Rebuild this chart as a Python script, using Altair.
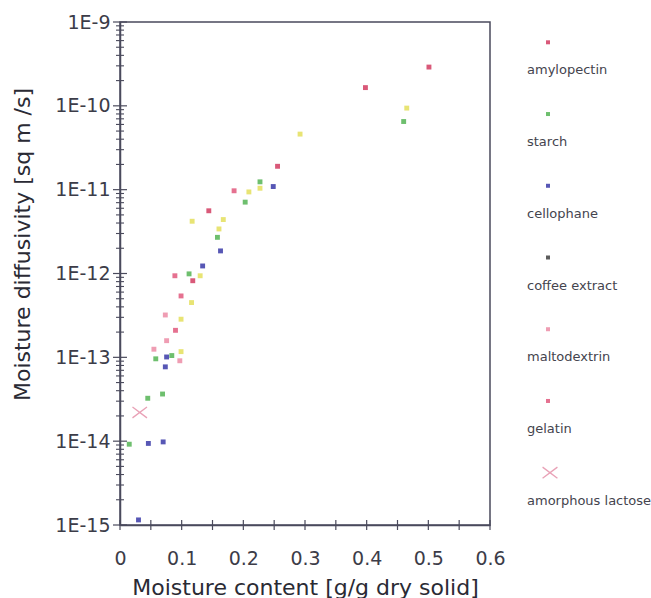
import altair as alt
import pandas as pd

# ---- data: moisture content [g/g dry solid] vs moisture diffusivity [m^2/s] ----
amylopectin_x = [0.501, 0.398, 0.2555, 0.144, 0.118]
amylopectin_y = [2.9e-10, 1.65e-10, 1.9e-11, 5.6e-12, 8.2e-13]

starch_x = [0.460, 0.227, 0.203, 0.158, 0.112, 0.058, 0.084, 0.045, 0.069, 0.015]
starch_y = [6.5e-11, 1.24e-11, 7.1e-12, 2.7e-12, 9.9e-13, 9.6e-14, 1.05e-13, 3.25e-14, 3.65e-14, 9.2e-15]

cellophane_x = [0.2485, 0.163, 0.134, 0.0756, 0.0735, 0.046, 0.070, 0.030]
cellophane_y = [1.09e-11, 1.86e-12, 1.23e-12, 1.01e-13, 7.7e-14, 9.4e-15, 9.8e-15, 1.15e-15]

coffee_x = []
coffee_y = []

maltodextrin_x = [0.0735, 0.0756, 0.055, 0.097]
maltodextrin_y = [3.2e-13, 1.58e-13, 1.25e-13, 9.1e-14]

gelatin_x = [0.185, 0.089, 0.099, 0.090]
gelatin_y = [9.7e-12, 9.4e-13, 5.4e-13, 2.1e-13]

lactose_x = [0.032]
lactose_y = [2.2e-14]

other_x = [0.465, 0.292, 0.227, 0.209, 0.117, 0.1675, 0.1605, 0.130, 0.116, 0.099, 0.099]
other_y = [9.4e-11, 4.6e-11, 1.04e-11, 9.4e-12, 4.2e-12, 4.4e-12, 3.4e-12, 9.4e-13, 4.5e-13, 2.85e-13, 1.17e-13]

legend_names = ["amylopectin", "starch", "cellophane", "coffee extract",
                "maltodextrin", "gelatin", "amorphous lactose"]
series_colors = ["#d23c62", "#55b455", "#3a3aa8", "#404040",
                 "#ec8ca6", "#e0587c", "#e07a98"]
other_name = "other"
other_color = "#e4df5c"

# tick positions
x_ticks = [round(i * 0.05, 2) for i in range(13)]
y_major = [10.0 ** e for e in range(-15, -8)]
y_minor = [m * 10.0 ** e for e in range(-15, -9) for m in range(2, 10)]

series_xy = {
    "amylopectin": (amylopectin_x, amylopectin_y),
    "starch": (starch_x, starch_y),
    "cellophane": (cellophane_x, cellophane_y),
    "coffee extract": (coffee_x, coffee_y),
    "maltodextrin": (maltodextrin_x, maltodextrin_y),
    "gelatin": (gelatin_x, gelatin_y),
    "amorphous lactose": (lactose_x, lactose_y),
    other_name: (other_x, other_y),
}
rows = []
for name, (xs, ys) in series_xy.items():
    for xv, yv in zip(xs, ys):
        rows.append({"series": name, "x": xv, "y": yv})
df = pd.DataFrame(rows)
legend_df = pd.DataFrame({"name": legend_names})
x_tick_df = pd.DataFrame({"v": x_ticks})
y_major_df = pd.DataFrame({"v": y_major})
y_minor_df = pd.DataFrame({"v": y_minor})

FONT = "DejaVu Sans"
INK = "#3c3c48"
AXIS = "#4a4a5c"
PLOT_H = 503

color_scale = alt.Scale(domain=legend_names + [other_name],
                        range=series_colors + [other_color])
x_scale = alt.Scale(domain=[0, 0.6], nice=False, zero=False)
y_scale = alt.Scale(type="log", domain=[1e-15, 1e-9], nice=False)

x_main_axis = alt.Axis(
    orient="bottom", values=x_ticks, ticks=False,
    domainColor=AXIS, domainWidth=1.5, grid=False,
    labelExpr="abs(datum.value*10 - round(datum.value*10)) < 0.001 ? format(datum.value, '.1~f') : ''",
    labelFont=FONT, labelFontSize=19, labelColor=INK, labelPadding=24,
    labelFlush=False, labelOverlap=False,
    title="Moisture content [g/g dry solid]", titleFont=FONT, titleFontSize=22,
    titleFontWeight="normal", titleColor="#2a2a34", titleY=69,
    titleBaseline="alphabetic",
)
y_main_axis = alt.Axis(
    orient="left", values=y_major, ticks=False,
    domainColor=AXIS, domainWidth=1.5, grid=False,
    labelExpr="'1E' + round(log(datum.value) / LN10)",
    labelFont=FONT, labelFontSize=19, labelColor=INK, labelPadding=10,
    labelFlush=False, labelOverlap=False,
    title="Moisture diffusivity [sq m /s]", titleFont=FONT, titleFontSize=22,
    titleFontWeight="normal", titleColor="#2a2a34", titleAngle=270,
    titleX=-91, titleY=222, titleBaseline="alphabetic", titleAlign="center",
)

squares = alt.Chart(df).transform_filter(
    "datum.series != 'amorphous lactose'"
).mark_point(shape="square", filled=True, size=24, opacity=0.85).encode(
    x=alt.X("x:Q", scale=x_scale, axis=x_main_axis),
    y=alt.Y("y:Q", scale=y_scale, axis=y_main_axis),
    color=alt.Color("series:N", scale=color_scale, legend=None),
)

cross_path = "M-1,-0.75L1,0.75M1,-0.75L-1,0.75"
crosses = alt.Chart(df).transform_filter(
    "datum.series == 'amorphous lactose'"
).mark_point(shape=cross_path, filled=False, size=210, strokeWidth=1.3).encode(
    x=alt.X("x:Q", scale=x_scale, axis=None),
    y=alt.Y("y:Q", scale=y_scale, axis=None),
    color=alt.Color("series:N", scale=color_scale, legend=None),
)

# tick marks crossing the axis lines
y_major_ticks = alt.Chart(y_major_df).mark_tick(
    size=14, thickness=1.2, color=AXIS, opacity=1
).encode(y=alt.Y("v:Q", scale=y_scale, axis=None), x=alt.value(0))
y_minor_ticks = alt.Chart(y_minor_df).mark_tick(
    size=8, thickness=1.1, color=AXIS, opacity=1
).encode(y=alt.Y("v:Q", scale=y_scale, axis=None), x=alt.value(0))
x_axis_ticks = alt.Chart(x_tick_df).mark_tick(
    size=10, thickness=1.2, color=AXIS, opacity=1
).encode(x=alt.X("v:Q", scale=x_scale, axis=None), y=alt.value(PLOT_H))

legend_y = alt.Y("name:N", sort=legend_names, axis=None,
                 scale=alt.Scale(type="point", domain=legend_names,
                                 range=[20.3, 450.7], padding=0))
legend_marks = alt.Chart(legend_df).transform_filter(
    "datum.name != 'amorphous lactose'"
).mark_point(shape="square", filled=True, size=16, opacity=0.85).encode(
    x=alt.value(428), y=legend_y,
    color=alt.Color("name:N", scale=color_scale, legend=None),
)
legend_cross = alt.Chart(legend_df).transform_filter(
    "datum.name == 'amorphous lactose'"
).mark_point(shape=cross_path, filled=False, size=220, strokeWidth=1.3).encode(
    x=alt.value(430), y=legend_y,
    color=alt.Color("name:N", scale=color_scale, legend=None),
)
legend_text = alt.Chart(legend_df).mark_text(
    align="left", baseline="middle", dy=28, font=FONT, fontSize=13, color="#44444e"
).encode(x=alt.value(407), y=legend_y, text="name:N")

chart = alt.layer(
    y_minor_ticks, y_major_ticks, x_axis_ticks,
    squares, crosses,
    legend_marks, legend_cross, legend_text,
).resolve_scale(
    x="independent", y="independent"
).properties(
    width=370, height=PLOT_H,
    padding={"left": 120, "top": 22, "right": 161, "bottom": 73},
    autosize=alt.AutoSizeParams(type="none"),
    background="white",
).configure_view(
    stroke=AXIS, strokeWidth=1.5
)

chart.save("out.html", embed_options={"renderer": "svg", "actions": False})
